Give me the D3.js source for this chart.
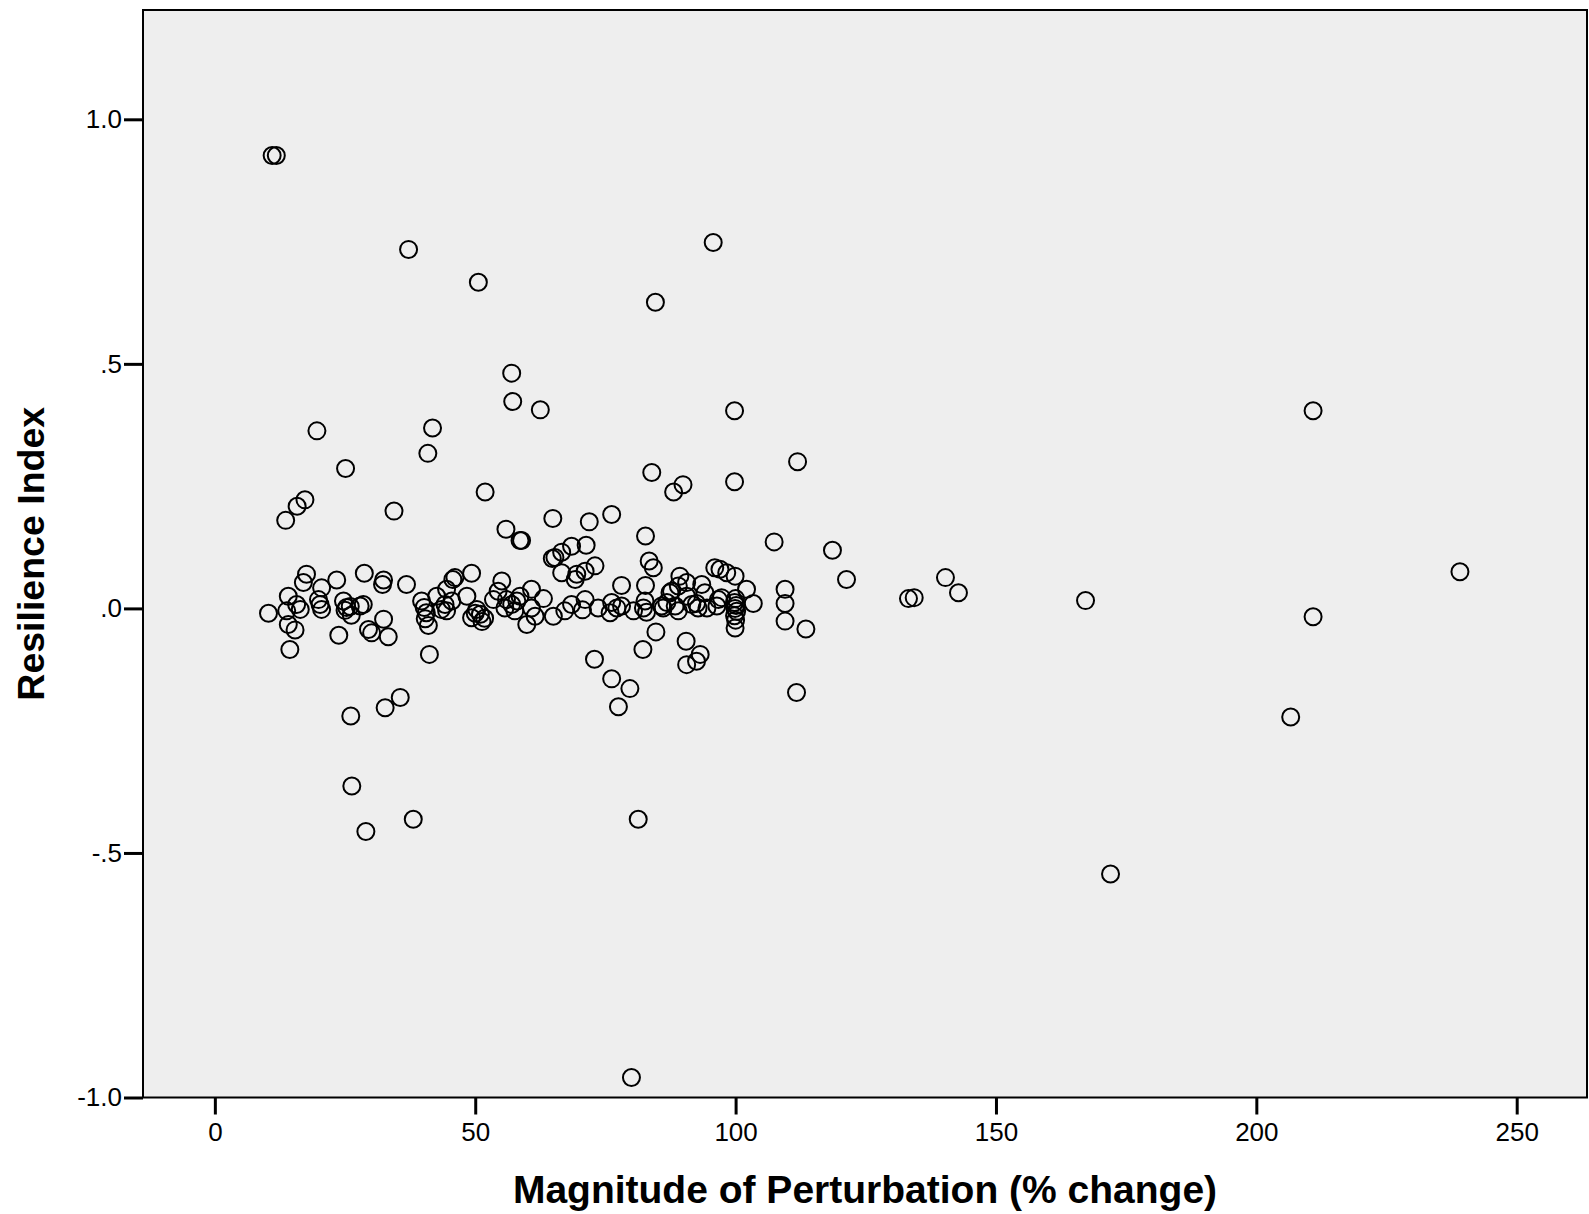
<!DOCTYPE html>
<html>
<head>
<meta charset="utf-8">
<script src="https://cdn.jsdelivr.net/npm/d3@7"></script>
<style>
  body { margin: 0; background: #ffffff; }
  .axis text { font-family: "Liberation Sans", Arial, sans-serif; font-size: 26px; fill: #000; }
  .axis line { stroke: #000; stroke-width: 3px; }
  .title { font-family: "Liberation Sans", Arial, sans-serif; font-weight: bold; fill: #000; }
</style>
</head>
<body>
<script>
// magnitude of perturbation (% change), one value per study
var magnitude = [
  11.0, 11.8, 10.3, 13.6, 15.8, 17.3, 14.1, 13.8, 15.7, 16.4,
  14.1, 15.4, 14.4, 17.6, 17.0, 20.5, 23.4, 19.9, 20.2, 20.5,
  19.6, 28.7, 32.4, 32.2, 36.8, 24.7, 25.3, 25.0, 26.0, 26.2,
  27.9, 28.5, 23.8, 29.5, 30.1, 32.4, 33.3, 25.1, 26.1, 26.3,
  29.0, 32.7, 35.6, 34.4, 37.2, 38.1, 39.7, 40.2, 40.6, 40.4,
  41.0, 41.2, 42.6, 44.2, 44.5, 43.5, 45.7, 44.5, 45.5, 46.1,
  49.3, 48.4, 41.8, 40.9, 49.3, 50.3, 51.0, 51.8, 51.3, 50.0,
  50.6, 51.9, 55.1, 54.4, 53.5, 56.0, 57.0, 58.0, 55.7, 57.6,
  58.6, 55.9, 58.6, 58.9, 57.0, 57.2, 62.5, 60.8, 63.1, 60.8,
  61.5, 59.9, 64.9, 71.9, 76.2, 64.8, 65.3, 66.6, 68.5, 71.3,
  66.6, 69.2, 69.5, 71.1, 73.0, 65.0, 67.2, 68.5, 71.1, 70.6,
  73.6, 76.2, 75.9, 77.2, 78.1, 80.4, 78.1, 72.9, 76.2, 79.7,
  77.5, 80.0, 81.3, 82.7, 83.4, 84.2, 82.7, 84.6, 83.9, 82.6,
  82.3, 82.9, 85.8, 87.4, 87.7, 89.0, 89.3, 90.6, 88.4, 89.0,
  86.8, 86.1, 90.6, 91.6, 92.8, 93.5, 94.1, 94.5, 92.5, 82.2,
  84.7, 90.5, 90.6, 92.5, 93.2, 88.1, 89.9, 95.7, 96.0, 97.0,
  98.3, 99.9, 96.7, 97.3, 96.4, 100.0, 99.8, 100.1, 99.9, 100.2,
  99.8, 100.0, 99.9, 99.8, 99.8, 102.1, 103.4, 107.4, 109.5, 109.5,
  109.5, 111.9, 111.7, 113.5, 118.6, 121.3, 133.2, 134.3, 140.3, 142.8,
  167.2, 172.0, 206.6, 210.9, 210.9, 239.1
];

// resilience index, same order as magnitude
var resilience = [
  0.926, 0.926, -0.010, 0.180, 0.209, 0.222, 0.025, -0.005, 0.008, -0.002,
  -0.033, -0.044, -0.084, 0.070, 0.053, 0.042, 0.058, 0.018, 0.008, -0.002,
  0.363, 0.072, 0.058, 0.049, 0.049, 0.015, 0.002, -0.004, 0.004, -0.014,
  0.005, 0.008, -0.055, -0.043, -0.050, -0.022, -0.058, 0.286, -0.220, -0.363,
  -0.456, -0.203, -0.182, 0.199, 0.734, -0.431, 0.015, 0.002, -0.009, -0.021,
  -0.035, -0.094, 0.025, 0.008, -0.005, -0.002, 0.059, 0.039, 0.015, 0.063,
  0.072, 0.025, 0.369, 0.317, -0.019, -0.002, -0.012, -0.020, -0.027, -0.010,
  0.667, 0.238, 0.056, 0.035, 0.018, 0.018, 0.008, 0.015, 0.001, -0.005,
  0.025, 0.162, 0.139, 0.139, 0.481, 0.423, 0.406, 0.039, 0.020, 0.001,
  -0.016, -0.033, 0.184, 0.177, 0.192, 0.102, 0.104, 0.115, 0.127, 0.129,
  0.073, 0.059, 0.070, 0.076, 0.087, -0.016, -0.005, 0.008, 0.018, -0.003,
  0.001, 0.012, -0.009, 0.001, 0.047, -0.005, 0.005, -0.104, -0.144, -0.164,
  -0.201, -0.959, -0.431, 0.148, 0.097, 0.083, 0.047, 0.626, 0.278, 0.015,
  0.001, -0.008, 0.005, 0.032, 0.035, 0.046, 0.066, 0.053, 0.005, -0.005,
  0.012, 0.001, 0.025, 0.008, 0.001, 0.049, 0.032, 0.001, 0.010, -0.084,
  -0.048, -0.067, -0.115, -0.108, -0.094, 0.238, 0.253, 0.748, 0.083, 0.080,
  0.073, 0.066, 0.018, 0.022, 0.005, 0.020, 0.012, 0.006, 0.000, -0.006,
  -0.015, -0.024, -0.040, 0.404, 0.259, 0.039, 0.010, 0.136, 0.039, 0.010,
  -0.026, 0.300, -0.172, -0.042, 0.119, 0.059, 0.020, 0.022, 0.063, 0.032,
  0.016, -0.543, -0.222, 0.404, -0.017, 0.075
];

// tick values and their labels
var xTicks = [0, 50, 100, 150, 200, 250];
var yTicks = [-1, -0.5, 0, 0.5, 1];
var yTickLabels = ["-1.0", "-.5", ".0", ".5", "1.0"];

var xTitle = "Magnitude of Perturbation (% change)";
var yTitle = "Resilience Index";

var w = 1589;
var h = 1214;
var margin = { left: 143, right: 2, top: 10, bottom: 116.5 };

var svg = d3.select("body")
  .append("svg")
  .attr("width", w)
  .attr("height", h);

// scales
var xScale = d3.scaleLinear()
  .domain([-13.8, 263.5])
  .range([margin.left, w - margin.right]);

var yScale = d3.scaleLinear()
  .domain([-1, 1.2235])
  .range([h - margin.bottom, margin.top]);

// grey plot background
svg.append("rect")
  .attr("x", margin.left)
  .attr("y", margin.top)
  .attr("width", w - margin.right - margin.left)
  .attr("height", h - margin.bottom - margin.top)
  .attr("fill", "#eeeeee");

// axes
var xAxis = d3.axisBottom(xScale)
  .tickValues(xTicks)
  .tickSize(17)
  .tickSizeOuter(0)
  .tickPadding(8);

var yAxis = d3.axisLeft(yScale)
  .tickValues(yTicks)
  .tickSize(19)
  .tickSizeOuter(0)
  .tickPadding(2)
  .tickFormat(function(d, i) { return yTickLabels[i]; });

svg.append("g")
  .attr("class", "x axis")
  .attr("transform", "translate(0," + (h - margin.bottom) + ")")
  .call(xAxis)
  .select(".domain").remove();

svg.append("g")
  .attr("class", "y axis")
  .attr("transform", "translate(" + margin.left + ",0)")
  .call(yAxis)
  .select(".domain").remove();

// the points
var data = magnitude.map(function(d, i) {
  return { x: d, y: resilience[i] };
});

svg.selectAll("circle")
  .data(data)
  .enter()
  .append("circle")
  .attr("cx", function(d) { return xScale(d.x); })
  .attr("cy", function(d) { return yScale(d.y); })
  .attr("r", 8.5)
  .attr("fill", "none")
  .attr("stroke", "#000")
  .attr("stroke-width", 2);

// frame around the plot
svg.append("rect")
  .attr("x", margin.left)
  .attr("y", margin.top)
  .attr("width", w - margin.right - margin.left)
  .attr("height", h - margin.bottom - margin.top)
  .attr("fill", "none")
  .attr("stroke", "#000")
  .attr("stroke-width", 2);

// axis titles
svg.append("text")
  .attr("class", "title")
  .attr("x", (margin.left + w - margin.right) / 2)
  .attr("y", 1203)
  .attr("text-anchor", "middle")
  .style("font-size", "39px")
  .text(xTitle);

svg.append("text")
  .attr("class", "title")
  .attr("transform", "translate(44," + ((margin.top + h - margin.bottom) / 2) + ") rotate(-90)")
  .attr("text-anchor", "middle")
  .style("font-size", "37.5px")
  .text(yTitle);
</script>
</body>
</html>
